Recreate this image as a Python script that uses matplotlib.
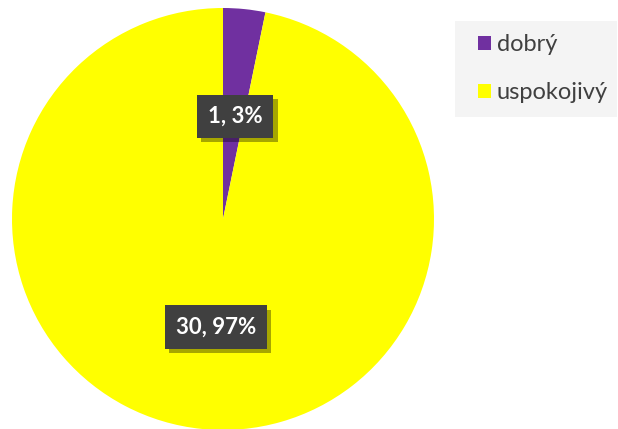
import matplotlib.pyplot as plt
from matplotlib.patches import Patch, Rectangle
import matplotlib.patheffects as pe

# Data
kategorie = ['dobrý', 'uspokojivý']
pocty = [1, 30]
popisky = ['1, 3%', '30, 97%']
barvy = ['#7030A0', '#FFFF00']

fig = plt.figure(figsize=(6.18, 4.29), dpi=100)
fig.patch.set_facecolor('white')

# Axes placed so the pie fills the left part (center ~ (223, 219) px, r ~ 211 px)
W, H = 618, 429
ax = fig.add_axes([12 / W, (429 - 430) / H, 422 / W, 422 / H])

wedges, _ = ax.pie(pocty, colors=barvy, startangle=90, counterclock=False,
                   radius=1.0, wedgeprops=dict(linewidth=0))
ax.set_xlim(-1, 1)
ax.set_ylim(-1, 1)
ax.set_aspect('equal')
ax.axis('off')

# Data labels with dark box and a soft shadow
pozice = [(0.057, 0.485), (-0.033, -0.512)]
for (x, y), text in zip(pozice, popisky):
    t = ax.text(x, y, text, ha='center', va='center',
                fontsize=16, fontweight='bold', family='Lato', color='white',
                bbox=dict(boxstyle='square,pad=0.5', facecolor='#404040',
                          edgecolor='none'))
    t.get_bbox_patch().set_path_effects([
        pe.SimplePatchShadow(offset=(3, -3), shadow_rgbFace='black', alpha=0.35),
        pe.Normal()])

# Legend background
fig.patches.append(Rectangle((455 / W, 1 - 117 / H), 162 / W, 96 / H,
                             transform=fig.transFigure, facecolor='#F4F4F4',
                             edgecolor='none', zorder=0))

# Legend
handles = [Patch(facecolor=c, edgecolor='none') for c in barvy]
leg = fig.legend(handles, kategorie, loc='upper left',
                 bbox_to_anchor=(478 / W, 1 - 34 / H),
                 prop=dict(family='Lato', size=17),
                 labelcolor='#404040', frameon=False,
                 handlelength=0.55, handleheight=0.55, handletextpad=0.25,
                 labelspacing=1.15, borderpad=0, borderaxespad=0)

fig.savefig('out.png', dpi=100)
